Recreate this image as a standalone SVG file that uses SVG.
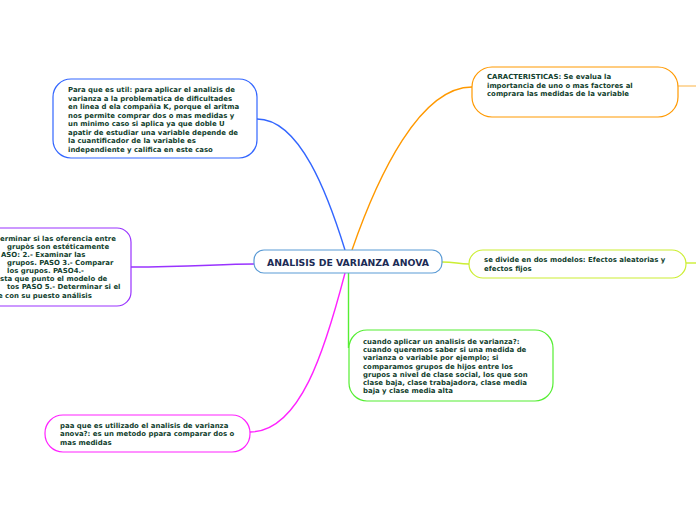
<svg xmlns="http://www.w3.org/2000/svg" width="696" height="520" viewBox="0 0 696 520">
<style>
.t{font-family:"DejaVu Sans",Verdana,sans-serif;font-weight:bold;font-size:6.95px;fill:#123f2e}
.c{font-family:"DejaVu Sans",Verdana,sans-serif;font-weight:bold;font-size:9.3px;fill:#1c2b55;text-anchor:middle}
.n{fill:#ffffff;stroke-width:1.2}
.e{fill:none;stroke-width:1.4}
</style>
<rect width="696" height="520" fill="#ffffff"/>
<g id="connectors">
<path class="e" stroke="#3366ff" d="M257,119 C300,119 328,195 345,250"/>
<path class="e" stroke="#ff9900" d="M352,250 C378,175 420,87 472,87"/>
<path class="e" stroke="#fdc97a" d="M678,86 L696,86"/>
<path class="e" stroke="#9933ff" d="M131,267 C190,267 220,264 254,264"/>
<path class="e" stroke="#ccee33" d="M442,262 C455,262 458,264 469,264"/>
<path class="e" stroke="#ccee33" d="M686,263 L696,263"/>
<path class="e" stroke="#55ee33" d="M348.5,273 L348.5,348"/>
<path class="e" stroke="#ff22ff" d="M345,273 C325,350 300,432 250,432"/>
</g>
<g id="center">
<rect class="n" x="254" y="250" width="188" height="23" rx="10" stroke="#5b9bd5"/>
<text class="c" x="348" y="265.5">ANALISIS DE VARIANZA ANOVA</text>
</g>
<g id="util">
<rect class="n" x="53" y="79" width="204" height="79" rx="18" stroke="#3366ff"/>
<text class="t" x="68"><tspan x="68" y="92">Para que es util: para aplicar el analizis de</tspan><tspan x="68" y="100.5">varianza a la problematica de dificultades</tspan><tspan x="68" y="109">en linea d ela compañia K, porque el aritma</tspan><tspan x="68" y="117.5">nos permite comprar dos o mas medidas y</tspan><tspan x="68" y="126">un minimo caso si aplica ya que doble U</tspan><tspan x="68" y="134.5">apatir de estudiar una variable depende de</tspan><tspan x="68" y="143">la cuantificador de la variable es</tspan><tspan x="68" y="151.5">independiente y califica en este caso</tspan></text>
</g>
<g id="pasos">
<rect class="n" x="-20" y="228" width="151" height="78" rx="14" stroke="#9933ff"/>
<text class="t"><tspan x="0" y="240.5">erminar si las oferencia entre</tspan><tspan x="7" y="249">grupòs son estéticamente</tspan><tspan x="1" y="257">ASO: 2.- Examinar las</tspan><tspan x="7" y="265">grupos. PASO 3.- Comparar</tspan><tspan x="7" y="273">los grupos. PASO4.-</tspan><tspan x="0" y="281">sta que punto el modelo de</tspan><tspan x="7" y="289">tos PASO 5.- Determinar si el</tspan><tspan x="-2" y="297.5">e con su puesto análisis</tspan></text>
</g>
<g id="caracteristicas">
<rect class="n" x="472" y="67" width="206" height="50" rx="20" stroke="#ff9900"/>
<text class="t"><tspan x="487" y="78.5">CARACTERISTICAS: Se evalua la</tspan><tspan x="487" y="87.5">importancia de uno o mas factores al</tspan><tspan x="487" y="96">comprara las medidas de la variable</tspan></text>
</g>
<g id="modelos">
<rect class="n" x="469" y="250" width="217" height="28" rx="14" stroke="#ccee33"/>
<text class="t"><tspan x="484" y="262">se divide en dos modelos: Efectos aleatorias y</tspan><tspan x="484" y="271">efectos fijos</tspan></text>
</g>
<g id="cuando">
<rect class="n" x="349" y="330" width="204" height="71" rx="18" stroke="#55ee33"/>
<text class="t"><tspan x="363" y="344">cuando aplicar un analisis de varianza?:</tspan><tspan x="363" y="352">cuando queremos saber si una medida de</tspan><tspan x="363" y="360">varianza o variable por ejemplo; si</tspan><tspan x="363" y="368.5">comparamos grupos de hijos entre los</tspan><tspan x="363" y="376.5">grupos a nivel de clase social, los que son</tspan><tspan x="363" y="384.5">clase baja, clase trabajadora, clase media</tspan><tspan x="363" y="392.5">baja y clase media alta</tspan></text>
</g>
<g id="utilizado">
<rect class="n" x="45" y="415" width="205" height="37" rx="18" stroke="#ff22ff"/>
<text class="t"><tspan x="60" y="427.5">paa que es utilizado el analisis de varianza</tspan><tspan x="60" y="436">anova?: es un metodo ppara comparar dos o</tspan><tspan x="60" y="444.5">mas medidas</tspan></text>
</g>
</svg>
